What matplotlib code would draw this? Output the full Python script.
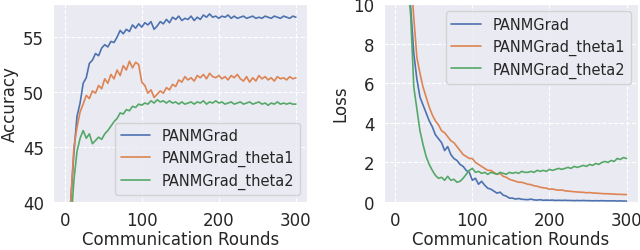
import matplotlib
matplotlib.use("Agg")
import matplotlib.pyplot as plt
import seaborn as sns

# communication rounds sampled every 4 rounds
rounds = list(range(0, 301, 4))

acc_panm = [30.0, 35.0, 40.2, 44.5, 47.8, 49.0, 50.8, 51.3, 52.6, 52.9,
            53.5, 53.3, 54.0, 54.3, 54.1, 54.6, 54.5, 55.0, 55.6, 55.3,
            55.7, 55.5, 56.1, 55.8, 56.2, 55.9, 56.3, 56.1, 56.4, 55.7,
            56.0, 56.4, 56.2, 56.6, 56.3, 56.8, 56.6, 56.9, 56.5, 56.7,
            56.6, 56.9, 56.5, 56.8, 56.6, 57.0, 56.8, 57.1, 56.8, 56.9,
            56.7, 56.9, 56.8, 57.0, 56.7, 56.9, 56.7, 56.8, 56.9, 56.7,
            56.8, 56.9, 56.7, 56.8, 56.7, 56.9, 56.8, 56.7, 56.9, 56.8,
            56.7, 56.9, 56.8, 56.7, 56.9, 56.8]
acc_theta1 = [30.0, 35.5, 40.3, 45.0, 46.8, 48.2, 48.9, 49.7, 49.4, 50.1,
              49.9, 50.6, 50.3, 51.2, 50.8, 51.6, 51.2, 52.0, 51.5, 52.4,
              52.0, 52.8, 52.2, 52.7, 52.5, 50.9, 50.6, 49.9, 50.2, 49.5,
              49.8, 50.1, 49.9, 50.4, 50.2, 50.7, 50.5, 51.1, 50.9, 51.4,
              51.1, 51.3, 51.0, 51.5, 51.3, 51.6, 51.2, 51.7, 51.4, 51.3,
              51.5, 51.2, 51.4, 51.1, 51.5, 51.3, 51.6, 51.2, 51.0, 51.4,
              50.9, 51.3, 51.0, 51.5, 51.2, 51.4, 51.1, 51.3, 51.0, 51.4,
              51.2, 51.3, 51.1, 51.4, 51.2, 51.3]
acc_theta2 = [30.0, 34.0, 38.0, 42.0, 44.6, 45.8, 46.5, 45.8, 46.2, 45.3,
              45.6, 45.9, 45.7, 46.2, 46.5, 46.9, 47.3, 47.6, 48.1, 48.0,
              48.4, 48.3, 48.7, 48.6, 48.9, 48.8, 49.0, 48.9, 49.2, 49.0,
              49.3, 49.1, 49.2, 49.0, 49.2, 49.0, 49.1, 48.9, 49.1, 48.9,
              49.0, 49.1, 48.9, 49.1, 49.0, 49.2, 48.9, 49.1, 49.0, 49.2,
              49.0, 49.1, 48.9, 49.0, 49.1, 48.9, 49.0, 49.1, 48.9, 49.0,
              49.1, 48.9, 49.0, 49.1, 48.9, 49.0, 48.8, 49.0, 48.9, 49.1,
              48.9, 49.0, 48.9, 49.0, 48.9, 48.9]

loss_panm = [30.0, 24.0, 18.0, 14.0, 11.5, 9.8, 7.5, 6.2, 5.3, 4.9,
             4.5, 4.1, 3.8, 3.4, 3.2, 3.0, 2.6, 2.8, 2.4, 2.2,
             2.1, 1.9, 1.8, 1.6, 1.5, 1.1, 1.2, 0.9, 1.05, 0.85,
             0.7, 0.65, 0.55, 0.45, 0.5, 0.35, 0.3, 0.2, 0.2, 0.15,
             0.18, 0.14, 0.13, 0.12, 0.15, 0.11, 0.1, 0.12, 0.09, 0.1,
             0.09, 0.1, 0.08, 0.09, 0.08, 0.09, 0.08, 0.08, 0.07, 0.08,
             0.07, 0.08, 0.07, 0.07, 0.06, 0.07, 0.06, 0.07, 0.06, 0.06,
             0.06, 0.06, 0.05, 0.06, 0.05, 0.05]
loss_theta1 = [32.0, 26.0, 21.0, 16.5, 13.5, 11.5, 9.3, 7.3, 6.5, 5.8,
               5.3, 4.8, 4.4, 4.1, 3.9, 3.6, 3.5, 3.3, 3.1, 3.0,
               2.8, 2.6, 2.4, 2.3, 2.2, 2.2, 2.0, 1.9, 1.8, 1.7,
               1.6, 1.6, 1.5, 1.4, 1.45, 1.3, 1.25, 1.15, 1.1, 1.05,
               1.0, 1.0, 0.95, 0.9, 0.88, 0.82, 0.8, 0.75, 0.72, 0.7,
               0.65, 0.66, 0.62, 0.6, 0.61, 0.57, 0.55, 0.54, 0.52, 0.51,
               0.5, 0.49, 0.47, 0.48, 0.46, 0.45, 0.44, 0.43, 0.42, 0.42,
               0.41, 0.4, 0.39, 0.39, 0.38, 0.38]
loss_theta2 = [28.0, 22.0, 17.0, 13.5, 11.2, 9.4, 5.8, 4.7, 3.6, 2.9,
               2.3, 1.9, 1.6, 1.35, 1.2, 1.25, 1.1, 1.3, 1.1, 1.15,
               1.0, 1.05, 1.2, 1.4, 1.6, 1.7, 1.5, 1.55, 1.45, 1.5,
               1.4, 1.5, 1.45, 1.4, 1.5, 1.45, 1.4, 1.5, 1.45, 1.5,
               1.45, 1.55, 1.5, 1.5, 1.55, 1.5, 1.6, 1.55, 1.6, 1.55,
               1.65, 1.6, 1.65, 1.7, 1.65, 1.7, 1.75, 1.7, 1.8, 1.75,
               1.8, 1.85, 1.8, 1.9, 1.85, 1.95, 1.9, 2.0, 2.05, 2.0,
               2.1, 2.05, 2.2, 2.15, 2.25, 2.2]

labels = ["PANMGrad", "PANMGrad_theta1", "PANMGrad_theta2"]

sns.set_style("darkgrid", {"grid.linestyle": "--"})
plt.rcParams["font.family"] = ["DejaVu Sans"]
plt.rcParams["font.size"] = 12
colors = sns.color_palette("deep")

fig, axes = plt.subplots(1, 2, figsize=(6.4, 2.51), dpi=100)
fig.subplots_adjust(left=0.083, right=0.997, bottom=0.191, top=0.98, wspace=0.3)

# -- accuracy --
ax = axes[0]
for ys, lab, c in zip([acc_panm, acc_theta1, acc_theta2], labels, colors):
    ax.plot(rounds, ys, color=c, label=lab, linewidth=1.2)
ax.set_ylim(40, 58)
ax.set_yticks([40, 45, 50, 55])
ax.set_xticks([0, 100, 200, 300])
ax.set_xlabel("Communication Rounds", fontsize=12, labelpad=1)
ax.set_ylabel("Accuracy", fontsize=12, labelpad=3)
ax.tick_params(labelsize=12, pad=3)
ax.legend(loc="lower right", fontsize=10.5, labelspacing=0.45)

# -- loss --
ax = axes[1]
for ys, lab, c in zip([loss_panm, loss_theta1, loss_theta2], labels, colors):
    ax.plot(rounds, ys, color=c, label=lab, linewidth=1.2)
ax.set_ylim(0, 10)
ax.set_yticks([0, 2, 4, 6, 8, 10])
ax.set_xticks([0, 100, 200, 300])
ax.set_xlabel("Communication Rounds", fontsize=12, labelpad=1)
ax.set_ylabel("Loss", fontsize=12, labelpad=3)
ax.tick_params(labelsize=12, pad=3)
ax.legend(loc="upper right", fontsize=10.5, labelspacing=0.45)

fig.savefig("out.png", dpi=100)
